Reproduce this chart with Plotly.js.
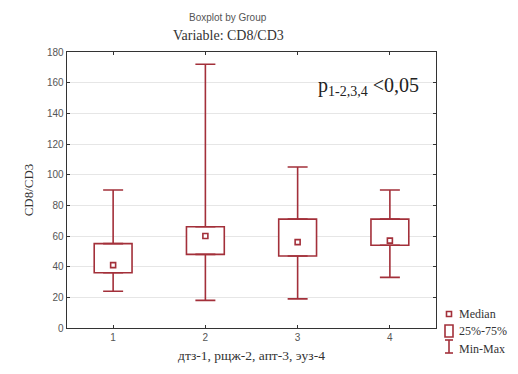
<!DOCTYPE html>
<html>
<head>
<meta charset="utf-8">
<script src="https://cdn.plot.ly/plotly-3.0.1.min.js"></script>
<style>html,body{margin:0;padding:0;background:#fff;}#chart{width:518px;height:374px;}</style>
</head>
<body>
<div id="chart"></div>
<script>
var groups = [1, 2, 3, 4];
var tickLabels = ['1', '2', '3', '4'];
var minVals = [24, 18, 19, 33];
var q1Vals = [36, 48, 47, 54];
var medianVals = [41, 60, 56, 57];
var q3Vals = [55, 66, 71, 71];
var maxVals = [90, 172, 105, 90];

var red = '#a3303a';

var boxHeights = q3Vals.map(function (v, i) { return v - q1Vals[i]; });
var upperLen = maxVals.map(function (v, i) { return v - q3Vals[i]; });
var lowerLen = q1Vals.map(function (v, i) { return v - minVals[i]; });
var zeros = groups.map(function () { return 0; });

var traces = [
  {
    type: 'bar', x: groups, y: boxHeights, base: q1Vals, width: 0.41,
    marker: {color: 'rgba(255,255,255,1)', line: {color: red, width: 1.6}},
    hoverinfo: 'skip', showlegend: false
  },
  {
    type: 'scatter', mode: 'markers', x: groups, y: q3Vals,
    marker: {size: 1, color: 'rgba(0,0,0,0)'},
    error_y: {type: 'data', symmetric: false, array: upperLen, arrayminus: zeros, color: red, thickness: 1.6, width: 10},
    showlegend: false, hoverinfo: 'skip'
  },
  {
    type: 'scatter', mode: 'markers', x: groups, y: q1Vals,
    marker: {size: 1, color: 'rgba(0,0,0,0)'},
    error_y: {type: 'data', symmetric: false, array: zeros, arrayminus: lowerLen, color: red, thickness: 1.6, width: 10},
    showlegend: false, hoverinfo: 'skip'
  },
  {
    type: 'scatter', mode: 'markers', x: groups, y: medianVals,
    marker: {symbol: 'square', size: 5, color: '#fff', line: {color: red, width: 1.6}},
    showlegend: false
  }
];

var serif = 'Liberation Serif, Times New Roman, serif';
var sans = 'Liberation Sans, Arial, sans-serif';

var layout = {
  width: 518, height: 374,
  margin: {l: 67, r: 82, t: 52, b: 46},
  paper_bgcolor: '#fff', plot_bgcolor: '#fff',
  showlegend: false,
  xaxis: {
    range: [0.5, 4.5], tickvals: groups, ticktext: tickLabels,
    showgrid: false, zeroline: false,
    showline: true, mirror: 'ticks', linecolor: '#333', linewidth: 1.4,
    ticks: 'inside', ticklen: 3, tickcolor: '#333',
    tickfont: {family: sans, size: 10, color: '#555'},
    title: {text: 'дтз-1, рщж-2, апт-3, эуз-4', font: {family: serif, size: 13.5, color: '#333'}, standoff: 8}
  },
  yaxis: {
    range: [0, 180], dtick: 20,
    showgrid: true, gridcolor: '#e6e6e6', gridwidth: 1, zeroline: false,
    showline: true, mirror: 'ticks', linecolor: '#333', linewidth: 1.4,
    ticks: 'inside', ticklen: 3, tickcolor: '#333',
    tickfont: {family: sans, size: 10, color: '#555'},
    title: {text: 'CD8/CD3', font: {family: serif, size: 13, color: '#333'}, standoff: 10}
  },
  annotations: [
    {xref: 'paper', yref: 'paper', x: (228 - 67) / 369, y: 1 + (52 - 17) / 276, xanchor: 'center', yanchor: 'middle',
     text: 'Boxplot by Group', showarrow: false, font: {family: sans, size: 10, color: '#555'}},
    {xref: 'paper', yref: 'paper', x: (228 - 67) / 369, y: 1 + (52 - 36) / 276, xanchor: 'center', yanchor: 'middle',
     text: 'Variable: CD8/CD3', showarrow: false, font: {family: serif, size: 14, color: '#333'}},
    {xref: 'paper', yref: 'paper', x: (421 - 67) / 369, y: 1 - (86 - 52) / 276, xanchor: 'right', yanchor: 'middle',
     text: 'p<sub>1-2,3,4</sub> <0,05', showarrow: false, font: {family: serif, size: 20, color: '#222'}},
    {xref: 'paper', yref: 'paper', x: (457 - 67) / 369, y: 1 - (314 - 52) / 276, xanchor: 'left', yanchor: 'middle',
     text: 'Median', showarrow: false, font: {family: serif, size: 12, color: '#333'}},
    {xref: 'paper', yref: 'paper', x: (457 - 67) / 369, y: 1 - (331 - 52) / 276, xanchor: 'left', yanchor: 'middle',
     text: '25%-75%', showarrow: false, font: {family: serif, size: 12, color: '#333'}},
    {xref: 'paper', yref: 'paper', x: (457 - 67) / 369, y: 1 - (349 - 52) / 276, xanchor: 'left', yanchor: 'middle',
     text: 'Min-Max', showarrow: false, font: {family: serif, size: 12, color: '#333'}}
  ],
  shapes: [
    {type: 'rect', xref: 'paper', yref: 'paper',
     x0: (446.5 - 67) / 369, x1: (451.5 - 67) / 369, y0: 1 - (316.5 - 52) / 276, y1: 1 - (311.5 - 52) / 276,
     line: {color: red, width: 1.6}, fillcolor: '#fff'},
    {type: 'rect', xref: 'paper', yref: 'paper',
     x0: (445 - 67) / 369, x1: (453 - 67) / 369, y0: 1 - (337 - 52) / 276, y1: 1 - (325 - 52) / 276,
     line: {color: red, width: 1.6}, fillcolor: '#fff'},
    {type: 'line', xref: 'paper', yref: 'paper',
     x0: (449 - 67) / 369, x1: (449 - 67) / 369, y0: 1 - (353 - 52) / 276, y1: 1 - (340 - 52) / 276,
     line: {color: red, width: 1.6}},
    {type: 'line', xref: 'paper', yref: 'paper',
     x0: (445 - 67) / 369, x1: (453 - 67) / 369, y0: 1 - (340 - 52) / 276, y1: 1 - (340 - 52) / 276,
     line: {color: red, width: 1.6}},
    {type: 'line', xref: 'paper', yref: 'paper',
     x0: (445 - 67) / 369, x1: (453 - 67) / 369, y0: 1 - (353 - 52) / 276, y1: 1 - (353 - 52) / 276,
     line: {color: red, width: 1.6}}
  ]
};

Plotly.newPlot('chart', traces, layout, {displayModeBar: false, staticPlot: true});
</script>
</body>
</html>
